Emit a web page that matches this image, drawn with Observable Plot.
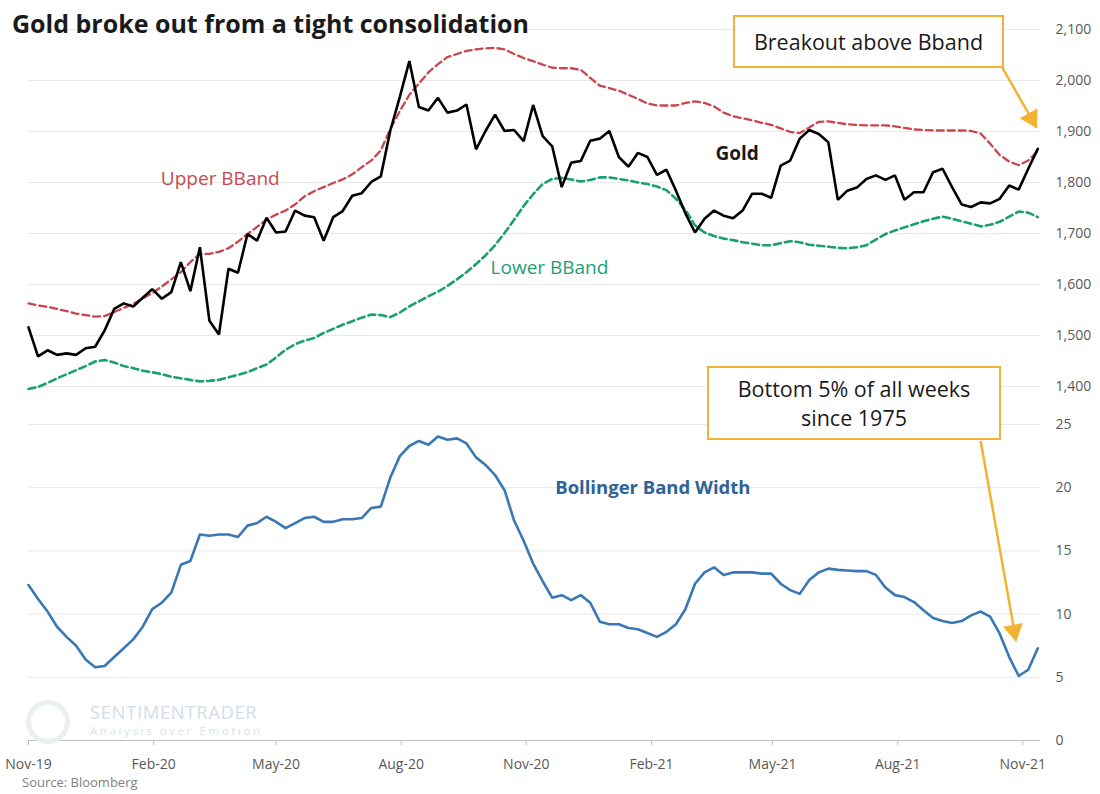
<!DOCTYPE html>
<html>
<head>
<meta charset="utf-8">
<script src="https://cdn.jsdelivr.net/npm/d3@7"></script>
<script src="https://cdn.jsdelivr.net/npm/@observablehq/plot@0.6"></script>
<style>
  body { margin: 0; background: #fff; }
  #wrap { position: relative; width: 1100px; height: 794px; overflow: hidden; font-family: "Open Sans", sans-serif; background: #fff; }
  #top, #bottom { position: absolute; left: 0; }
  #top { top: 0; }
  #bottom { top: 400px; }
  .title { position: absolute; left: 12px; top: 11px; font-weight: 700; font-size: 25px; line-height: 25px; color: #1a1a1a; white-space: nowrap; }
  .box { position: absolute; border: 2px solid #f2b233; background: #fff; color: #1a1a1a; line-height: 29px; text-align: center; box-sizing: border-box; display: flex; align-items: center; justify-content: center; }
  .source { position: absolute; left: 22px; top: 776px; font-size: 13px; line-height: 13px; color: #7f7f7f; }
  .wm1 { position: absolute; left: 90px; top: 703px; font-size: 18.5px; line-height: 18px; color: #d3dde7; letter-spacing: 0.6px; }
  .wm2 { position: absolute; left: 90px; top: 725px; font-size: 11.5px; line-height: 11px; color: #dbe2ea; letter-spacing: 2.6px; }
  .wmlogo { position: absolute; left: 26px; top: 700px; width: 44px; height: 44px; border-radius: 50%; border: 5px solid #eceff2; box-sizing: border-box; }
</style>
</head>
<body>
<div id="wrap">
  <div id="top"></div>
  <div id="bottom"></div>
  <div class="wmlogo"></div>
  <div class="wm1">SENTIMENTRADER</div>
  <div class="wm2">Analysis over Emotion</div>
  <div class="title">Gold broke out from a tight consolidation</div>
  <div class="box" style="left:733px; top:15px; width:271px; height:53px; font-size:21.5px;">Breakout above Bband</div>
  <div class="box" style="left:707px; top:366px; width:294px; height:74px; font-size:21.5px;">Bottom 5% of all weeks<br>since 1975</div>
  <div class="source">Source: Bloomberg</div>
</div>
<script>
// ---- data (weekly, Fridays, Nov 1 2019 – Nov 12 2021) ----
const weeks = d3.utcFriday.range(new Date(Date.UTC(2019, 10, 1)), new Date(Date.UTC(2021, 10, 13)));

const gold = [1516,1459,1471,1462,1465,1462,1475,1478,1510,1552,1563,1557,1574,1591,1572,1585,1644,1587,1673,1529,
  1502,1631,1623,1699,1686,1731,1702,1704,1745,1735,1732,1686,1732,1744,1774,1779,1801,1812,1902,1968,
  2038,1948,1941,1966,1937,1941,1953,1865,1901,1933,1901,1903,1881,1952,1891,1871,1791,1839,1842,1882,
  1886,1901,1850,1831,1858,1850,1815,1825,1784,1739,1702,1729,1745,1735,1730,1745,1778,1778,1770,1833,
  1843,1886,1903,1895,1879,1766,1784,1790,1807,1814,1805,1814,1766,1781,1781,1820,1827,1791,1757,1752,
  1761,1759,1768,1794,1786,1827,1866];

const upperBand = [1563,1559,1556,1552,1548,1543,1540,1537,1538,1546,1554,1562,1573,1583,1596,1610,1624,1644,1660,1660,
  1664,1671,1684,1699,1713,1727,1737,1745,1757,1773,1783,1791,1799,1806,1816,1830,1843,1863,1905,1940,
  1972,1994,2016,2032,2046,2052,2058,2061,2063,2064,2061,2052,2044,2038,2031,2025,2024,2024,2021,2005,
  1990,1985,1980,1972,1964,1955,1951,1951,1951,1956,1959,1956,1949,1937,1930,1926,1922,1917,1913,1906,
  1899,1897,1908,1919,1920,1917,1914,1913,1912,1912,1912,1910,1907,1904,1903,1902,1902,1902,1902,1901,
  1896,1876,1854,1841,1834,1843,1862];

const lowerBand = [1395,1399,1407,1416,1424,1432,1440,1449,1452,1447,1440,1436,1431,1428,1424,1419,1416,1413,1410,1411,
  1413,1418,1423,1428,1436,1443,1457,1472,1483,1490,1495,1505,1513,1521,1528,1535,1541,1540,1536,1545,
  1557,1567,1577,1586,1597,1610,1624,1640,1657,1677,1701,1727,1754,1777,1797,1807,1809,1806,1802,1805,
  1810,1810,1807,1804,1800,1797,1792,1785,1768,1746,1716,1702,1695,1690,1687,1683,1680,1677,1677,1681,
  1685,1683,1678,1676,1674,1672,1671,1673,1677,1688,1699,1706,1712,1718,1724,1729,1733,1729,1724,1719,
  1714,1717,1723,1733,1743,1741,1732];

const bandWidth = [12.3,11.2,10.2,9.0,8.2,7.5,6.4,5.8,5.9,6.6,7.3,8.0,9.0,10.4,10.9,11.7,13.9,14.2,16.3,16.2,
  16.3,16.3,16.1,17.0,17.2,17.7,17.3,16.8,17.2,17.6,17.7,17.3,17.3,17.5,17.5,17.6,18.4,18.5,20.8,22.5,
  23.3,23.7,23.4,24.05,23.8,23.9,23.5,22.4,21.8,21.0,19.8,17.4,15.8,14.0,12.6,11.3,11.5,11.1,11.5,10.9,
  9.4,9.2,9.2,8.9,8.8,8.5,8.2,8.6,9.2,10.4,12.4,13.3,13.7,13.1,13.3,13.3,13.3,13.2,13.2,12.4,
  11.9,11.6,12.7,13.3,13.6,13.5,13.45,13.4,13.4,13.1,12.1,11.5,11.35,10.95,10.3,9.7,9.45,9.3,9.45,9.9,
  10.2,9.8,8.45,6.6,5.1,5.6,7.3];

const priceTicks = [1400,1500,1600,1700,1800,1900,2000,2100];
const widthTicks = [0,5,10,15,20,25];
const dateTicks = ["2019-11-01","2020-02-01","2020-05-01","2020-08-01","2020-11-01","2021-02-01","2021-05-01","2021-08-01","2021-11-01"].map(d => new Date(d + "T00:00:00Z"));
const xDomain = [new Date("2019-11-01T00:00:00Z"), new Date("2021-11-14T00:00:00Z")];

const topLabels = [
  {date: new Date("2020-03-21T00:00:00Z"), value: 1808, label: "Upper BBand", color: "#c8494e", weight: 400, size: 19},
  {date: new Date("2020-11-18T00:00:00Z"), value: 1633, label: "Lower BBand", color: "#1c9f76", weight: 400, size: 19},
  {date: new Date("2021-04-05T00:00:00Z"), value: 1857, label: "Gold", color: "#1a1a1a", weight: 700, size: 19}
];
const bottomLabels = [
  {date: new Date("2021-02-02T00:00:00Z"), value: 19.94, label: "Bollinger Band Width", color: "#2e6397", weight: 700, size: 18.5}
];
const arrowTop = [{x1: new Date("2021-10-17T00:00:00Z"), y1: 2025, x2: new Date("2021-11-11T00:00:00Z"), y2: 1908}];
const arrowBottom = [{x1: new Date("2021-10-01T00:00:00Z"), y1: 23.7, x2: new Date("2021-10-27T00:00:00Z"), y2: 7.9}];

const rows = weeks.map((date, i) => ({date, gold: gold[i], upper: upperBand[i], lower: lowerBand[i], bbw: bandWidth[i]}));

const orange = "#f2b233";
const baseStyle = {background: "transparent", fontFamily: "'Open Sans', sans-serif", fontSize: "14px", color: "#595959", overflow: "visible"};

const topChart = Plot.plot({
  width: 1100, height: 400,
  marginLeft: 28, marginRight: 60, marginTop: 29, marginBottom: 14,
  style: baseStyle,
  x: {type: "utc", domain: xDomain, axis: null},
  y: {domain: [1400, 2100], axis: null},
  marks: [
    Plot.gridY(priceTicks, {stroke: "#e9e9e9", strokeOpacity: 1}),
    Plot.axisY({anchor: "right", ticks: priceTicks, tickFormat: d3.format(","), tickSize: 0, tickPadding: 15, fill: "#595959", label: null}),
    Plot.lineY(rows, {x: "date", y: "upper", stroke: "#c9474c", strokeWidth: 2.3, strokeDasharray: "7,4"}),
    Plot.lineY(rows, {x: "date", y: "lower", stroke: "#1a9e73", strokeWidth: 2.6, strokeDasharray: "7,4"}),
    Plot.lineY(rows, {x: "date", y: "gold", stroke: "#000", strokeWidth: 2.6, strokeLinejoin: "miter"}),
    ...topLabels.map(d => Plot.text([d], {x: "date", y: "value", text: "label", fill: d.color, fontWeight: d.weight, fontSize: d.size})),
    Plot.link(arrowTop, {x1: "x1", y1: "y1", x2: "x2", y2: "y2", stroke: orange, strokeWidth: 2.5}),
    Plot.dot(arrowTop, {x: "x2", y: "y2", symbol: "triangle", r: 7.5, fill: orange, stroke: "none", rotate: 151, dx: -5, dy: -9})
  ]
});
document.getElementById("top").appendChild(topChart);

const bottomChart = Plot.plot({
  width: 1100, height: 394,
  marginLeft: 28, marginRight: 60, marginTop: 24, marginBottom: 54,
  style: baseStyle,
  x: {type: "utc", domain: xDomain, axis: null},
  y: {domain: [0, 25], axis: null},
  marks: [
    Plot.gridY(widthTicks.filter(t => t > 0), {stroke: "#e9e9e9", strokeOpacity: 1}),
    Plot.ruleY([0], {stroke: "#bfbfbf", strokeWidth: 1.2}),
    Plot.axisY({anchor: "right", ticks: widthTicks, tickSize: 0, tickPadding: 15, fill: "#595959", label: null}),
    Plot.axisX({ticks: dateTicks, tickFormat: d3.utcFormat("%b-%y"), tickSize: 5, tickPadding: 14, stroke: "#bfbfbf", fill: "#595959", label: null}),
    Plot.lineY(rows, {x: "date", y: "bbw", stroke: "#3a78b5", strokeWidth: 2.6}),
    ...bottomLabels.map(d => Plot.text([d], {x: "date", y: "value", text: "label", fill: d.color, fontWeight: d.weight, fontSize: d.size})),
    Plot.link(arrowBottom, {x1: "x1", y1: "y1", x2: "x2", y2: "y2", stroke: orange, strokeWidth: 2.5}),
    Plot.dot(arrowBottom, {x: "x2", y: "y2", symbol: "triangle", r: 7.5, fill: orange, stroke: "none", rotate: 169.5, dx: -2, dy: -10})
  ]
});
document.getElementById("bottom").appendChild(bottomChart);
</script>
</body>
</html>
